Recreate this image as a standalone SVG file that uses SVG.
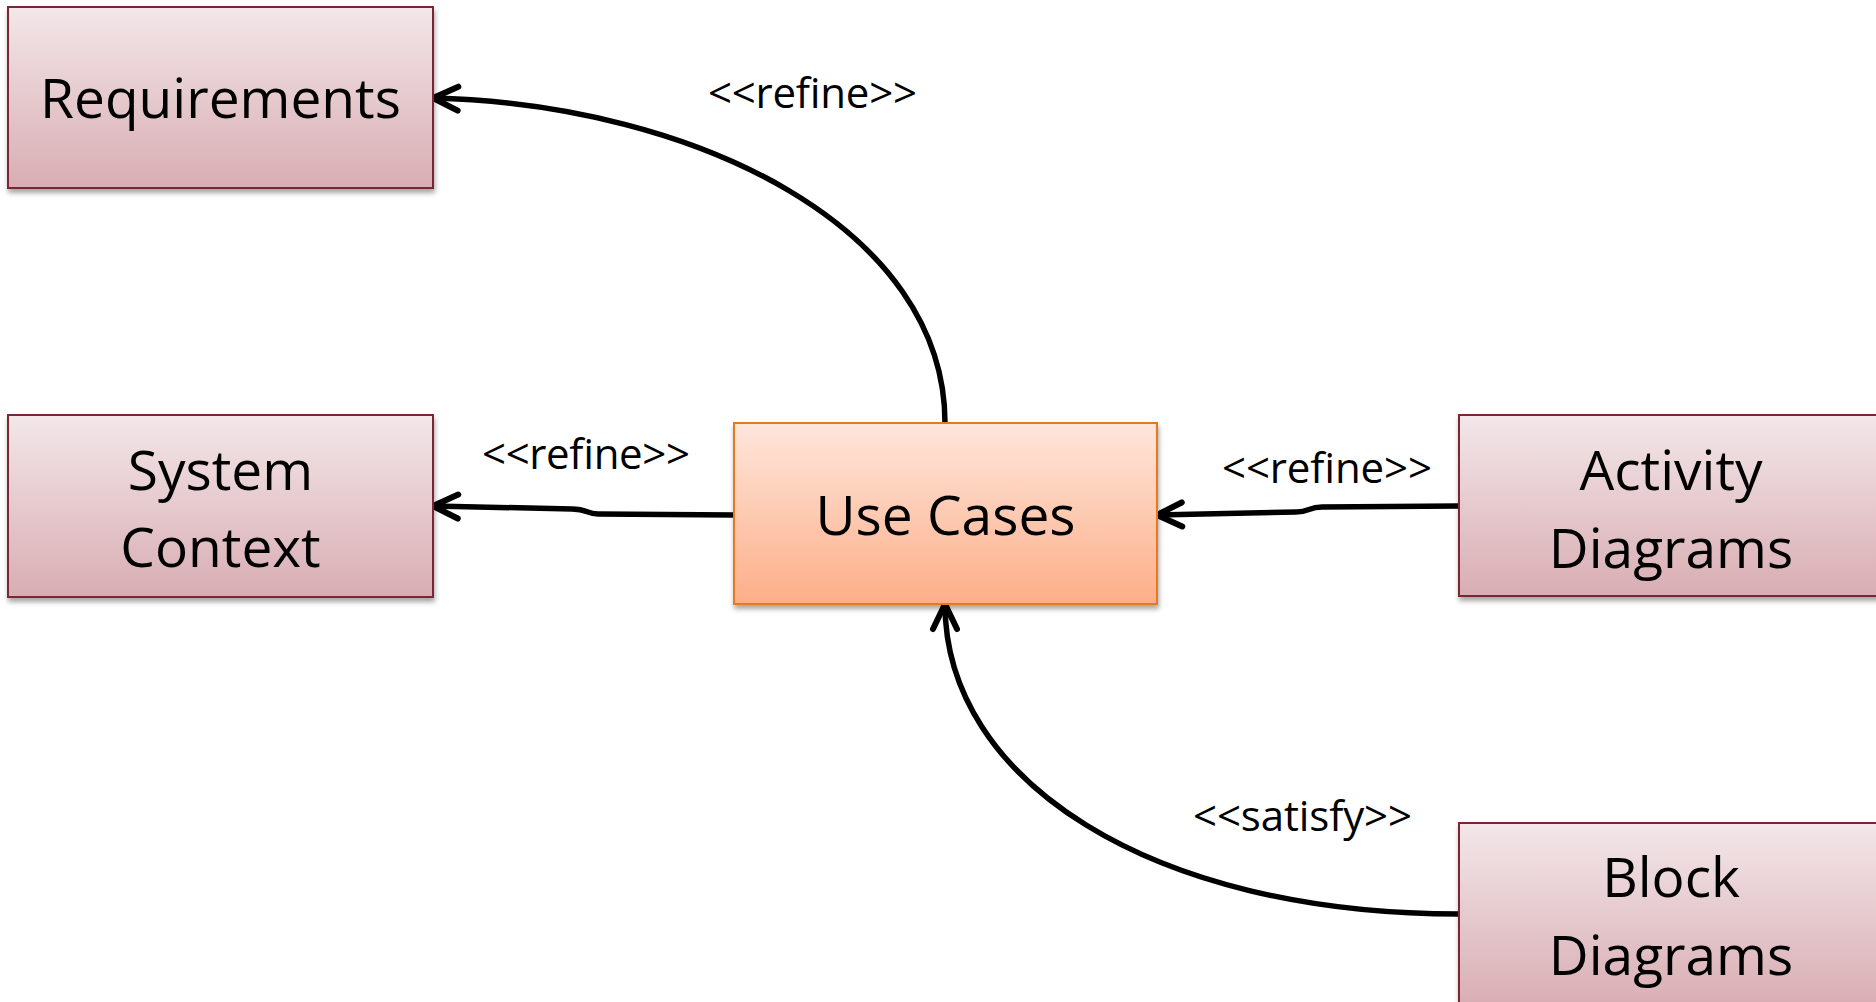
<svg xmlns="http://www.w3.org/2000/svg" width="1876" height="1002" viewBox="0 0 1876 1002">
<defs>
<linearGradient id="gPink" x1="0" y1="0" x2="0" y2="1">
<stop offset="0" stop-color="#f3e7e9"/>
<stop offset="1" stop-color="#d8adb3"/>
</linearGradient>
<linearGradient id="gOrange" x1="0" y1="0" x2="0" y2="1">
<stop offset="0" stop-color="#fee6dc"/>
<stop offset="1" stop-color="#fdae88"/>
</linearGradient>
<filter id="sh" x="-5%" y="-5%" width="115%" height="120%">
<feDropShadow dx="1" dy="4" stdDeviation="2.5" flood-color="#000" flood-opacity="0.35"/>
</filter>
<marker id="arr" markerUnits="userSpaceOnUse" markerWidth="40" markerHeight="40" viewBox="-30 -20 40 40" refX="0" refY="0" orient="auto">
<path d="M-25,-12 L0,0 L-25,12" fill="none" stroke="#000" stroke-width="6" stroke-linecap="round" stroke-linejoin="round"/>
</marker>
</defs>
<style>
.box{fill:url(#gPink);stroke:#7b2836;stroke-width:2;filter:url(#sh)}
.main{fill:url(#gOrange);stroke:#e8791f;stroke-width:2;filter:url(#sh)}
.nt{font-family:"Open Sans","Liberation Sans",sans-serif;font-size:55px;fill:#000;text-anchor:middle}
.lb{font-family:"Open Sans","Liberation Sans",sans-serif;font-size:42px;fill:#000;text-anchor:start}
.cn{fill:none;stroke:#000;stroke-width:5.5;marker-end:url(#arr)}
</style>
<rect width="1876" height="1002" fill="#fff"/>
<g id="connectors">
<path class="cn" d="M945,423 C945,230 700,105 433,98"/>
<path class="cn" d="M734,515 L598,514 C586,514 588,509 572,509 L433,506"/>
<path class="cn" d="M1459,506 L1322,507 C1308,507 1310,512 1296,512 L1157,515"/>
<path class="cn" d="M1459,914 C1150,914 945,780 945,604"/>
</g>
<g id="node-requirements">
<rect class="box" x="8" y="7" width="425" height="181"/>
<text class="nt" x="220.5" y="118">Requirements</text>
</g>
<g id="node-system-context">
<rect class="box" x="8" y="415" width="425" height="182"/>
<text class="nt" x="220.5" y="490">System</text>
<text class="nt" x="220.5" y="567">Context</text>
</g>
<g id="node-use-cases">
<rect class="main" x="734" y="423" width="423" height="181"/>
<text class="nt" x="945.5" y="535">Use Cases</text>
</g>
<g id="node-activity-diagrams">
<rect class="box" x="1459" y="415" width="425" height="181"/>
<text class="nt" x="1671" y="490">Activity</text>
<text class="nt" x="1671" y="568">Diagrams</text>
</g>
<g id="node-block-diagrams">
<rect class="box" x="1459" y="823" width="425" height="185"/>
<text class="nt" x="1671" y="897">Block</text>
<text class="nt" x="1671" y="975">Diagrams</text>
</g>
<g id="labels">
<text class="lb" x="708" y="108" textLength="209">&lt;&lt;refine&gt;&gt;</text>
<text class="lb" x="482" y="469" textLength="208">&lt;&lt;refine&gt;&gt;</text>
<text class="lb" x="1222" y="483" textLength="210">&lt;&lt;refine&gt;&gt;</text>
<text class="lb" x="1193" y="831" textLength="219">&lt;&lt;satisfy&gt;&gt;</text>
</g>
</svg>
